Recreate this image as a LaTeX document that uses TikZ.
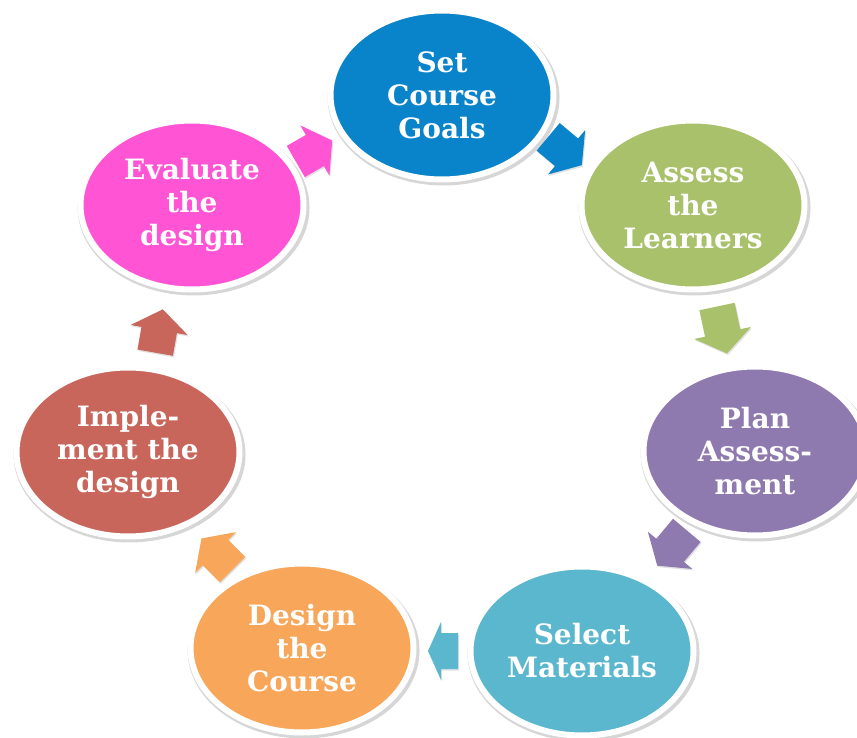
\documentclass[tikz,border=0pt]{standalone}
\usepackage{fontspec}
\setmainfont{DejaVu Serif}
\usetikzlibrary{shapes.geometric,shadows}

\definecolor{goalblue}{RGB}{9,131,201}
\definecolor{learngreen}{RGB}{170,193,108}
\definecolor{planpurple}{RGB}{143,122,176}
\definecolor{selectteal}{RGB}{91,183,205}
\definecolor{designorange}{RGB}{248,167,90}
\definecolor{implred}{RGB}{201,102,91}
\definecolor{evalpink}{RGB}{255,84,212}

% block arrow: #1 name, #2 centre, #3 direction (deg), #4 colour,
% #5 total length, #6 head length  (shaft 36pt wide, head 58pt wide)
\newcommand{\blockarrow}[6]{%
  \coordinate (#1) at #2;
  \begin{scope}[shift={(#1)}, rotate=#3, x=1pt, y=1pt]
    \fill[#4, flowshadow]
      ({-#5/2},-18) -- ({#5/2-#6},-18) -- ({#5/2-#6},-29) -- ({#5/2},0)
      -- ({#5/2-#6},29) -- ({#5/2-#6},18) -- ({-#5/2},18) -- cycle;
  \end{scope}}

\begin{document}
\begin{tikzpicture}[x=1pt,y=-1pt,
  stage/.style={ellipse, draw=white, line width=6pt,
    minimum width=223pt, minimum height=169pt, inner sep=0pt,
    text=white, align=center,
    font=\fontsize{28}{33}\selectfont\bfseries,
    general shadow={shadow xshift=1.5pt, shadow yshift=-2.5pt,
      shadow scale=1.04, fill=black, opacity=0.16}},
  flowshadow/.style={drop shadow={shadow xshift=1pt, shadow yshift=-1.5pt,
      fill=black, opacity=0.12}}]
\useasboundingbox (0,0) rectangle (857,738);
\clip (0,0) rectangle (857,738);

% block arrows around the cycle (drawn first, stages sit on top)
\blockarrow{toGoals}{(314,151)}{30}{evalpink}{42}{20}
\blockarrow{toLearners}{(565,151)}{-40}{goalblue}{44}{20}
\blockarrow{toPlan}{(722,330)}{-78}{learngreen}{48}{21}
\blockarrow{toSelect}{(672,548)}{-130}{planpurple}{46}{20}
\blockarrow{toDesign}{(443,651)}{180}{selectteal}{30}{13}
\blockarrow{toImpl}{(217,554)}{135}{designorange}{44}{20}
\blockarrow{toEval}{(159,331)}{80}{implred}{44}{21}

% the seven stages
\node[stage, fill=goalblue]     (goals)    at (442,95)  {Set\\Course\\Goals};
\node[stage, fill=learngreen]   (learners) at (693,205) {Assess\\the\\Learners};
\node[stage, fill=planpurple]   (plan)     at (755,451) {Plan\\Assess-\\ment};
\node[stage, fill=selectteal]   (select)   at (582,651) {Select\\Materials};
\node[stage, fill=designorange] (design)   at (302,648) {Design\\the\\Course};
\node[stage, fill=implred]      (impl)     at (128,452) {Imple-\\ment the\\design};
\node[stage, fill=evalpink]     (eval)     at (192,205) {Evaluate\\the\\design};
\end{tikzpicture}
\end{document}
